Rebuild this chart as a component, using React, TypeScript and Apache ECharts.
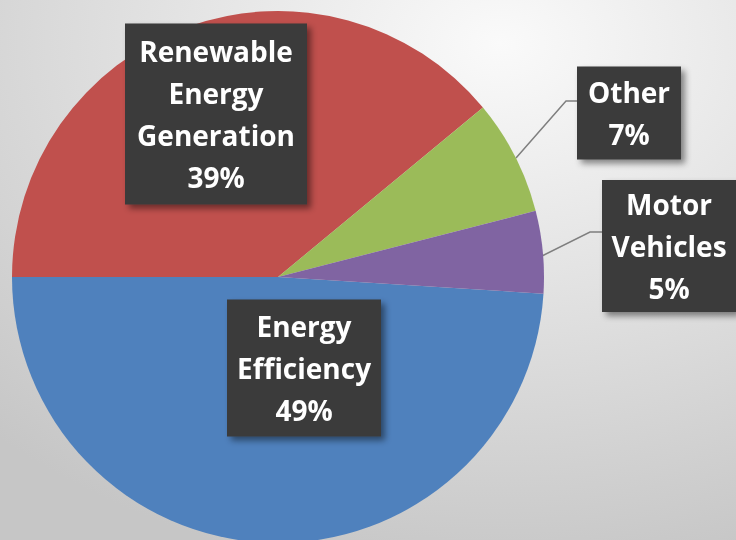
import React, { useEffect, useRef } from "react";
import * as echarts from "echarts";

const categories = ["Energy Efficiency", "Renewable Energy Generation", "Other", "Motor Vehicles"];
const values = [49, 39, 7, 5];
const colors = ["#4F81BD", "#C0504D", "#9BBB59", "#8064A2"];

// label box centres and sizes (style)
const boxes = [
  { cx: 304, cy: 368, w: 154, h: 137, line: null as number[][] | null },
  { cx: 216, cy: 114, w: 182, h: 181, line: null },
  { cx: 629, cy: 113, w: 104, h: 93, line: [[516, 158], [566, 101], [577, 101]] },
  { cx: 669, cy: 246, w: 134, h: 132, line: [[542, 256], [590, 232], [602, 232]] },
];

export default function App() {
  const ref = useRef<HTMLDivElement>(null);
  useEffect(() => {
    if (!ref.current) return;
    const chart = echarts.init(ref.current, null, { renderer: "svg" });
    chart.setOption({
      animation: false,
      backgroundColor: {
        type: "radial",
        x: 0.68,
        y: 0.08,
        r: 1.0,
        colorStops: [
          { offset: 0, color: "#fafafa" },
          { offset: 1, color: "#c6c6c6" },
        ],
      },
      series: [
        {
          type: "pie",
          center: [278, 277],
          radius: 266,
          startAngle: -3.6,
          clockwise: true,
          avoidLabelOverlap: false,
          itemStyle: { borderWidth: 0 },
          label: {
            show: true,
            position: "outside",
            formatter: (p: any) => p.name.replace(/ /g, "\n") + "\n" + Math.round(p.percent) + "%",
            color: "#ffffff",
            fontFamily: "Open Sans",
            fontWeight: "bold",
            fontSize: 28,
            lineHeight: 42,
            align: "center",
            verticalAlign: "middle",
            backgroundColor: "#3b3b3b",
            shadowColor: "rgba(0,0,0,0.45)",
            shadowBlur: 6,
            shadowOffsetX: 4,
            shadowOffsetY: 4,
          },
          labelLine: { show: true, lineStyle: { color: "#7f7f7f", width: 1.5 } },
          labelLayout: (params: any) => {
            const b = boxes[params.dataIndex];
            const out: any = {
              x: b.cx,
              y: b.cy,
              align: "center",
              verticalAlign: "middle",
            };
            if (b.line) out.labelLinePoints = b.line;
            return out;
          },
          data: categories.map((name, i) => ({
            name,
            value: values[i],
            itemStyle: { color: colors[i] },
            label: { width: boxes[i].w, height: boxes[i].h, padding: 0 },
            labelLine: { show: !!boxes[i].line },
          })),
        },
      ],
    });
    return () => chart.dispose();
  }, []);
  return <div ref={ref} style={{ position: "fixed", left: 0, top: 0, width: 736, height: 540 }} />;
}
